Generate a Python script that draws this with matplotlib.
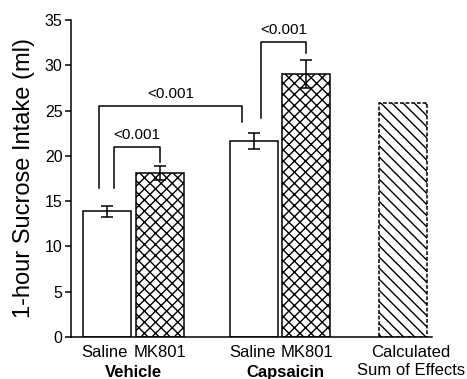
import matplotlib
matplotlib.use("Agg")
import matplotlib.pyplot as plt

plt.rcParams['font.family'] = ['Liberation Sans', 'DejaVu Sans']
plt.rcParams['hatch.linewidth'] = 1.0

# measured values (ml)
bar_labels = ['Saline', 'MK801', 'Saline', 'MK801', 'Calculated\nSum of Effects']
means = [13.9, 18.1, 21.65, 29.0, 25.8]
sems = [0.6, 0.8, 0.9, 1.55, None]
groups = ['Vehicle', 'Capsaicin']

# brackets: (left x, right x, top y, left foot y, right foot y, label)
brackets = [
    (43, 89, 21.0, 16.45, 19.3, '<0.001'),
    (28, 171, 25.5, 16.45, 23.75, '<0.001'),
    (190, 235, 32.6, 24.2, 31.4, '<0.001'),
]

# layout (x positions in axis units)
xpos = [36, 89, 183, 235, 332]
label_x = [33, 89, 181, 236, 340]
width = 48

fig = plt.figure(figsize=(4.67, 3.79), dpi=100)
ax = fig.add_axes([71 / 467, 42 / 379, 361 / 467, 317 / 379])

styles = [
    dict(facecolor='white', hatch=None),
    dict(facecolor='white', hatch='xxx'),
    dict(facecolor='white', hatch=None),
    dict(facecolor='white', hatch='xxx'),
    dict(facecolor='white', hatch='\\\\\\'),
]
for i in range(5):
    ls = (0, (2.5, 1.2)) if i == 4 else '-'
    ax.bar(xpos[i], means[i], width=width, edgecolor='black', linewidth=1.1,
           linestyle=ls, zorder=2, **styles[i])

for i in range(4):
    ax.errorbar(xpos[i], means[i], yerr=sems[i], color='black', capsize=4,
                elinewidth=1.1, capthick=1.1, zorder=3)

for x1, x2, top, f1, f2, lab in brackets:
    ax.plot([x1, x1, x2, x2], [f1, top, top, f2], color='black', lw=1.1, zorder=3)
    ax.text((x1 + x2) / 2, top + 0.55, lab, ha='center', va='bottom', fontsize=11)

ax.set_xlim(0, 361)
ax.set_ylim(0, 35)
ax.set_yticks(range(0, 36, 5))
ax.set_xticks(label_x)
ax.set_xticklabels(bar_labels, fontsize=12, linespacing=1.25)
ax.tick_params(axis='x', length=0, pad=5.5)
ax.tick_params(axis='y', length=4, width=1.1, labelsize=11.5, pad=2)
ax.spines['top'].set_visible(False)
ax.spines['right'].set_visible(False)
ax.spines['left'].set_linewidth(1.1)
ax.spines['bottom'].set_linewidth(1.1)
ax.set_ylabel('1-hour Sucrose Intake (ml)', fontsize=17, labelpad=7)

for g, cx in zip(groups, [(xpos[0] + xpos[1]) / 2, (xpos[2] + xpos[3]) / 2 + 5]):
    ax.annotate(g, xy=(cx, 0), xycoords=('data', 'axes fraction'),
                xytext=(0, -20.5), textcoords='offset points',
                ha='center', va='top', fontsize=12, fontweight='bold')

fig.savefig('out.png', dpi=100)
